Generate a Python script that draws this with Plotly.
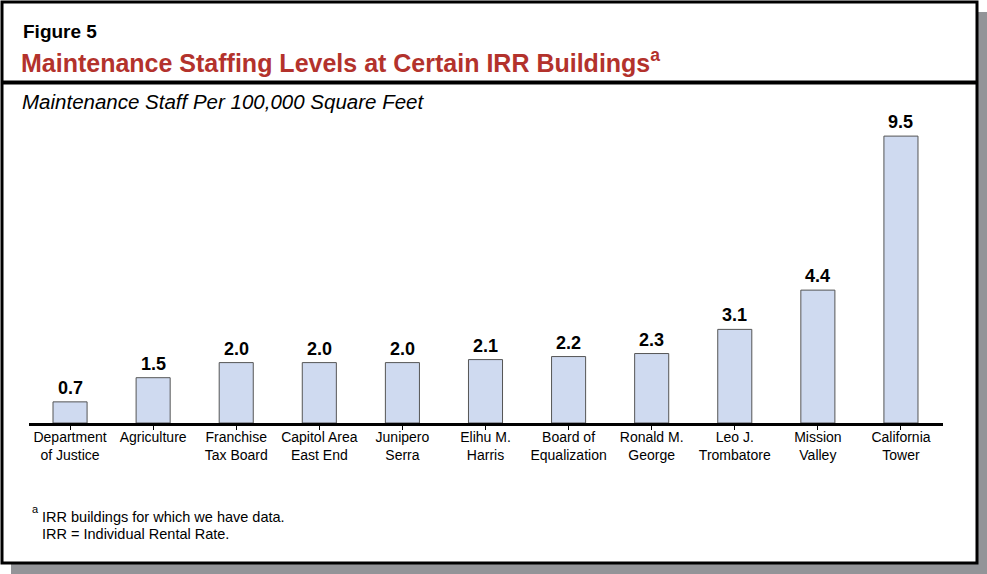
import plotly.graph_objects as go

W, H = 987, 574

categories = ["Department<br>of Justice", "Agriculture", "Franchise<br>Tax Board", "Capitol Area<br>East End",
              "Junipero<br>Serra", "Elihu M.<br>Harris", "Board of<br>Equalization", "Ronald M.<br>George",
              "Leo J.<br>Trombatore", "Mission<br>Valley", "California<br>Tower"]
values = [0.7, 1.5, 2.0, 2.0, 2.0, 2.1, 2.2, 2.3, 3.1, 4.4, 9.5]
value_labels = ["0.7", "1.5", "2.0", "2.0", "2.0", "2.1", "2.2", "2.3", "3.1", "4.4", "9.5"]

FONT = "Liberation Sans, Arial, Helvetica, sans-serif"

def px(x):
    return x / W

def py(y):
    return 1 - y / H

fig = go.Figure()
fig.add_trace(go.Bar(
    x=list(range(len(categories))), y=values,
    marker=dict(color="#cfdaf0", line=dict(color="#555555", width=1)),
    width=0.41, hoverinfo="skip",
))

annotations = []
for i, (v, t) in enumerate(zip(values, value_labels)):
    annotations.append(dict(x=i, y=v, xref="x", yref="y", text="<b>%s</b>" % t,
                            showarrow=False, yanchor="bottom", yshift=2,
                            font=dict(family=FONT, size=18, color="black")))

annotations += [
    dict(x=px(21), y=py(31), xref="paper", yref="paper", xanchor="left", yanchor="middle",
         text="<b>Figure 5</b>", showarrow=False, font=dict(family=FONT, size=19, color="black")),
    dict(x=px(19), y=py(61), xref="paper", yref="paper", xanchor="left", yanchor="middle",
         text="<b>Maintenance Staffing Levels at Certain IRR Buildings<sup>a</sup></b>", showarrow=False,
         font=dict(family=FONT, size=25, color="#b3322c")),
    dict(x=px(20), y=py(102), xref="paper", yref="paper", xanchor="left", yanchor="middle",
         text="<i>Maintenance Staff Per 100,000 Square Feet</i>", showarrow=False,
         font=dict(family=FONT, size=20.5, color="black")),
    dict(x=px(30), y=py(509), xref="paper", yref="paper", xanchor="left", yanchor="middle",
         text="a", showarrow=False, font=dict(family=FONT, size=11, color="black")),
    dict(x=px(40), y=py(517), xref="paper", yref="paper", xanchor="left", yanchor="middle",
         text="IRR buildings for which we have data.", showarrow=False,
         font=dict(family=FONT, size=14.5, color="black")),
    dict(x=px(40), y=py(534), xref="paper", yref="paper", xanchor="left", yanchor="middle",
         text="IRR = Individual Rental Rate.", showarrow=False,
         font=dict(family=FONT, size=14.5, color="black")),
]

shapes = [
    dict(type="rect", xref="paper", yref="paper", x0=px(11), x1=px(987), y0=py(12), y1=py(574),
         fillcolor="#939498", line=dict(width=0), layer="below"),
    dict(type="rect", xref="paper", yref="paper", x0=px(2), x1=px(977), y0=py(2), y1=py(563),
         fillcolor="white", line=dict(color="black", width=3), layer="below"),
    dict(type="line", xref="paper", yref="paper", x0=px(2), x1=px(977), y0=py(82.5), y1=py(82.5),
         line=dict(color="black", width=4)),
]

fig.update_layout(
    width=W, height=H,
    margin=dict(l=0, r=0, t=0, b=0),
    paper_bgcolor="white", plot_bgcolor="rgba(0,0,0,0)",
    showlegend=False, bargap=0.59,
    annotations=annotations, shapes=shapes,
    xaxis=dict(domain=[px(28.5), px(942.5)], range=[-0.5, len(categories) - 0.5],
               tickmode="array", tickvals=list(range(len(categories))), ticktext=categories,
               showline=True, linecolor="black", linewidth=3,
               ticks="outside", tickson="boundaries", ticklen=4, tickcolor="black", tickwidth=1,
               ticklabelstandoff=-5,
               tickfont=dict(family=FONT, size=14, color="black"), showgrid=False, zeroline=False,
               fixedrange=True),
    yaxis=dict(domain=[1 - 423 / H, 1 - 121 / H], range=[0, 10], visible=False, fixedrange=True),
)

fig.write_html("out.html", config={"displayModeBar": False},
               post_script="document.body.style.margin='0';document.body.style.padding='0';document.body.style.overflow='hidden';")
